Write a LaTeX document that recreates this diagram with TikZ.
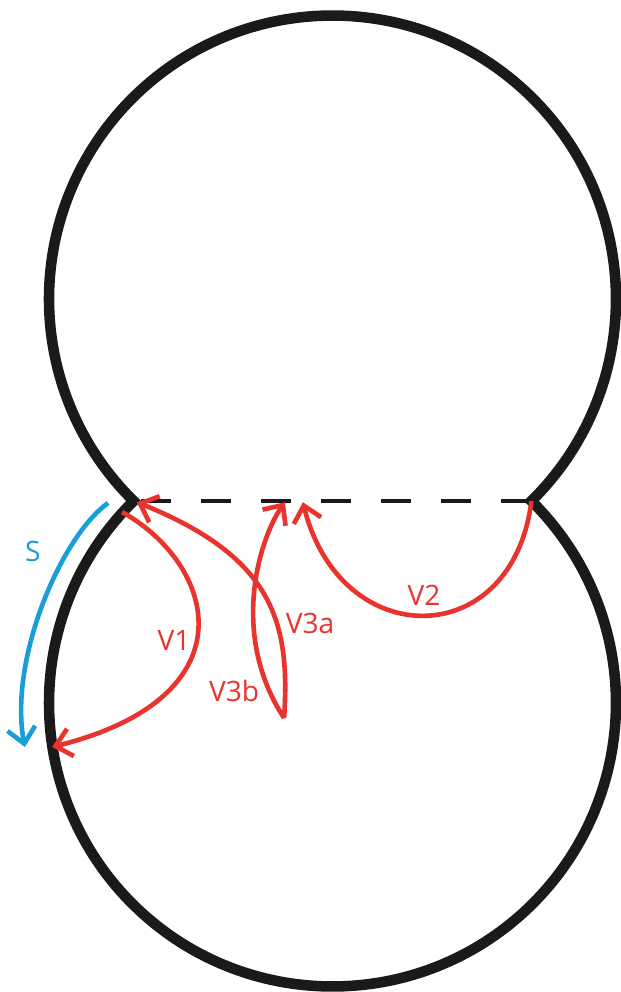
\documentclass[tikz,border=0pt]{standalone}
\usepackage{fontspec}
\setmainfont{Open Sans}
\usetikzlibrary{arrows.meta,calc}
\definecolor{rim}{HTML}{1A1A1A}
\definecolor{vred}{HTML}{E8332E}
\definecolor{sblue}{HTML}{1A9ED9}

\begin{document}
\begin{tikzpicture}[
  lbl/.style={font=\fontsize{20}{24}\selectfont, inner sep=0pt},
  vline/.style={line width=3.3pt, vred, -{Straight Barb[length=11pt,width=20pt]}},
  sline/.style={line width=3.3pt, sblue, -{Straight Barb[length=11pt,width=20pt]}}
]
\useasboundingbox (-8.3125,-12.275) rectangle (7.1875,12.525);
\pgfmathsetmacro{\rr}{7.0875}
\pgfmathsetmacro{\hh}{5.05}
\pgfmathsetmacro{\th}{asin(\hh/\rr)}
\pgfmathsetmacro{\vx}{\rr*cos(\th)}
\coordinate (lv) at (-\vx,0);
\coordinate (rv) at (\vx,0);
% neck line
\draw[rim, line width=3.2pt, dash pattern=on 0.75cm off 0.75cm] (rv) -- (lv);
% outline of both lobes
\draw[rim, line width=7.5pt, line join=miter]
  (rv) arc[start angle=-\th, end angle=180+\th, radius=\rr]
       arc[start angle=180-\th, end angle=360+\th, radius=\rr] -- cycle;
% end points of the moves
\coordinate (v1s) at (-5.26,-0.275);
\coordinate (v1e) at (-7.01,-6.15);
\coordinate (cusp) at (-1.21,-5.425);
\coordinate (v3at) at (-4.89,-0.03);
\coordinate (v3bt) at (-1.19,-0.03);
\coordinate (v2t) at (-0.74,-0.03);
\coordinate (ss) at (-5.61,-0.05);
\coordinate (se) at (-7.69,-6.15);
\draw[vline] (v1s) .. controls (-2.9,-1.6) and (-2.0,-4.9) .. (v1e);
\draw[vline] (cusp) .. controls (-1.05,-3.0) and (-1.5,-1.4) .. (v3at);
\draw[vline] (cusp) .. controls (-2.6,-3.3) and (-1.8,-0.9) .. (v3bt);
\draw[vline] (rv) .. controls (4.5,-3.8) and (0.2,-3.8) .. (v2t);
\draw[sline] (ss) .. controls (-6.8,-0.9) and (-8.1,-4.0) .. (se);
% labels
\node[lbl, vred] (l1) at (-3.96,-3.475) {V1};
\node[lbl, vred] (l3b) at (-2.46,-4.75) {V3b};
\node[lbl, vred] (l3a) at (-0.56,-3.05) {V3a};
\node[lbl, vred] (l2) at (2.29,-2.35) {V2};
\node[lbl, sblue] (ls) at (-7.49,-1.25) {S};
\end{tikzpicture}
\end{document}
